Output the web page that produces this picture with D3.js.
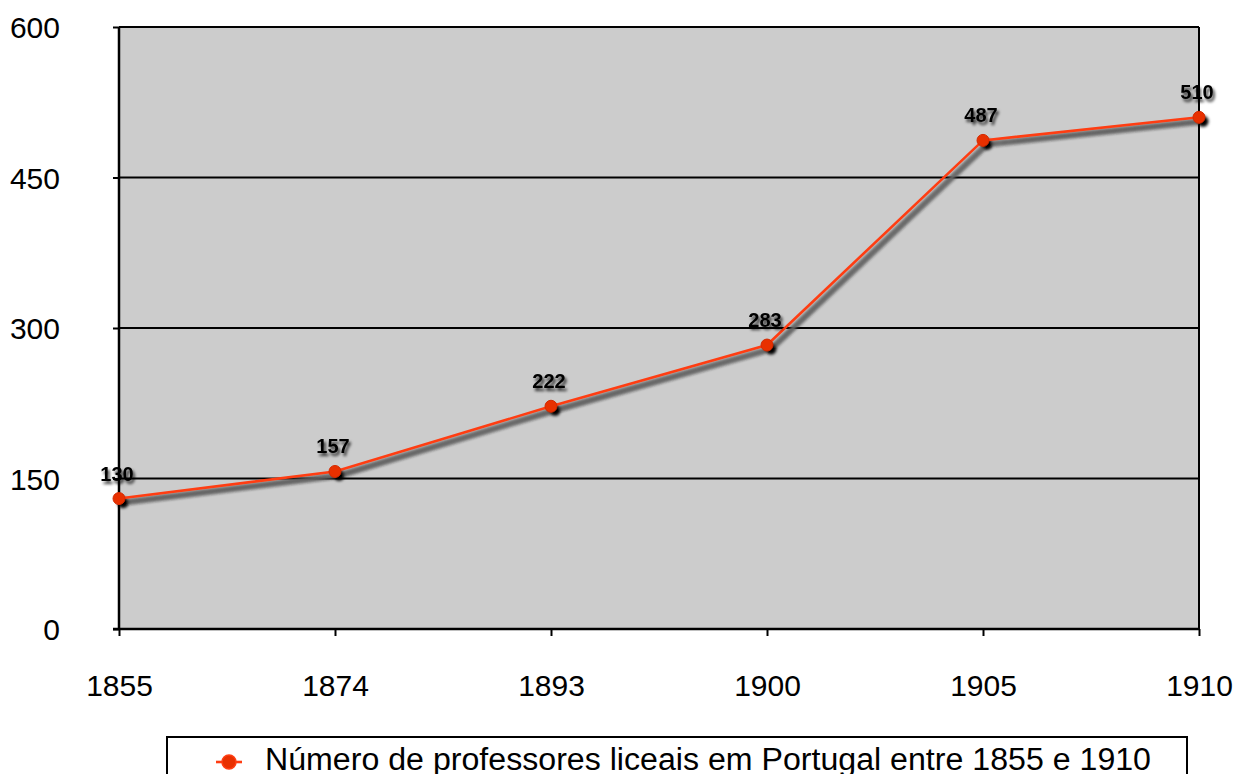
<!DOCTYPE html>
<html><head><meta charset="utf-8">
<script src="https://cdn.jsdelivr.net/npm/d3@7"></script>
<style>body{margin:0;background:#fff;}svg{display:block;font-family:"Liberation Sans",Arial,Helvetica,sans-serif;}</style>
</head><body>
<svg id="c" width="1236" height="774"></svg>
<script>
const years = ["1855","1874","1893","1900","1905","1910"];
const values = [130,157,222,283,487,510];
const yTicks = [0,150,300,450,600];
const legendLabel = "Número de professores liceais em Portugal entre 1855 e 1910";

const svg = d3.select("#c");
const L=119, R=1199, T=27, B=629;
const x = d3.scalePoint().domain(years).range([L,R]).padding(0);
const y = d3.scaleLinear().domain([0,600]).range([B,T]);

const defs = svg.append("defs");
const f = defs.append("filter").attr("id","blur").attr("x","-10%").attr("y","-10%").attr("width","120%").attr("height","120%");
f.append("feGaussianBlur").attr("stdDeviation",1.6);
const f2 = defs.append("filter").attr("id","tshadow").attr("x","-30%").attr("y","-40%").attr("width","160%").attr("height","180%");
f2.append("feDropShadow").attr("dx",2).attr("dy",3).attr("stdDeviation",1.8)
  .attr("flood-color","#000").attr("flood-opacity",0.75);

svg.append("rect").attr("x",L).attr("y",T).attr("width",R-L).attr("height",B-T).attr("fill","#cccccc");

// gridlines
svg.append("g").selectAll("line").data(yTicks.filter(d=>d>0)).join("line")
  .attr("x1",L).attr("x2",R).attr("y1",d=>y(d)).attr("y2",d=>y(d))
  .attr("stroke","#000").attr("stroke-width",2);
// right border
svg.append("line").attr("x1",R).attr("x2",R).attr("y1",T).attr("y2",B).attr("stroke","#000").attr("stroke-width",2);

// y axis
const ya = svg.append("g").attr("transform",`translate(${L},0)`)
  .call(d3.axisLeft(y).tickValues(yTicks).tickSize(6).tickPadding(0).tickFormat(d3.format("d")));
ya.select(".domain").attr("stroke","#000").attr("stroke-width",2.5).attr("d",`M0,${T}V${B}`);
ya.selectAll(".tick line").attr("stroke","#000").attr("stroke-width",2);
ya.selectAll(".tick text").attr("x",-59).attr("font-size",30).attr("fill","#000")
  .attr("font-family","'Liberation Sans',Arial,sans-serif").attr("dy","0.36em");

// x axis
const xa = svg.append("g").attr("transform",`translate(0,${B})`)
  .call(d3.axisBottom(x).tickSize(7).tickPadding(0));
xa.select(".domain").attr("stroke","#000").attr("stroke-width",2.5).attr("d",`M${L-6},0H${R}`);
xa.selectAll(".tick line").attr("stroke","#000").attr("stroke-width",2);
xa.selectAll(".tick text").attr("y",67).attr("dy",0).attr("font-size",30).attr("fill","#000")
  .attr("font-family","'Liberation Sans',Arial,sans-serif");

const line = d3.line().x((d,i)=>x(years[i])).y(d=>y(d));

// shadow
const sh = svg.append("g").attr("transform","translate(4,4)").attr("filter","url(#blur)");
sh.append("path").attr("d",line(values)).attr("fill","none").attr("stroke","#111").attr("stroke-width",5);
sh.append("path").attr("d",line(values)).attr("fill","none").attr("stroke","#999").attr("stroke-width",1.6);
sh.selectAll("circle").data(values).join("circle")
  .attr("cx",(d,i)=>x(years[i])).attr("cy",d=>y(d)).attr("r",5.5).attr("fill","#000");

// line
svg.append("path").attr("d",line(values)).attr("fill","none").attr("stroke","#ff3d12").attr("stroke-width",2.6);
svg.append("g").selectAll("circle").data(values).join("circle")
  .attr("cx",(d,i)=>x(years[i])).attr("cy",d=>y(d)).attr("r",6)
  .attr("fill","#e83000").attr("stroke","#d42a00").attr("stroke-width",1);

// labels
svg.append("g").selectAll("text").data(values).join("text")
  .attr("x",(d,i)=>x(years[i])-2).attr("y",d=>y(d)-18)
  .attr("text-anchor","middle").attr("font-size",20).attr("font-weight","bold")
  .attr("fill","#000").attr("filter","url(#tshadow)").text(d=>d);

// legend
const lgd = svg.append("g");
lgd.append("rect").attr("x",167).attr("y",737).attr("width",1020).attr("height",60)
  .attr("fill","#fff").attr("stroke","#000").attr("stroke-width",2);
lgd.append("line").attr("x1",216).attr("x2",242).attr("y1",762).attr("y2",762).attr("stroke","#ff3d12").attr("stroke-width",2.6);
lgd.append("circle").attr("cx",229).attr("cy",762).attr("r",7).attr("fill","#e83000").attr("stroke","#ff3d12").attr("stroke-width",1.5);
lgd.append("text").attr("x",265).attr("y",770).attr("font-size",31)
  .attr("textLength",886).attr("lengthAdjust","spacingAndGlyphs").attr("fill","#000").text(legendLabel);
</script>
</body></html>
